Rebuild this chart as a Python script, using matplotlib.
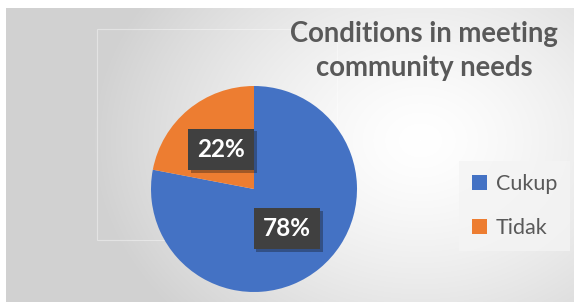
"""Pie chart: conditions in meeting community needs."""

import numpy as np
import matplotlib.pyplot as plt
import matplotlib.patheffects as pe

labels = ["Cukup", "Tidak"]
values = [78, 22]
colors = ["#4472C4", "#ED7D31"]
title = "Conditions in meeting\ncommunity needs"

plt.rcParams["font.family"] = ["Lato", "DejaVu Sans"]

fig = plt.figure(figsize=(5.74, 3.02), dpi=100)

# radial grey-to-white background, white strip at top/left
bg = fig.add_axes([0, 0, 1, 1])
W, H = 574, 302
yy, xx = np.mgrid[0:H, 0:W]
d = np.sqrt(((xx - 420) / 330.0) ** 2 + ((yy - 140) / 260.0) ** 2)
shade = 1.0 - 0.18 * np.clip(d, 0, 1) ** 1.4
img = np.dstack([shade] * 3)
img[:8, :, :] = 1.0
img[:, :6, :] = 1.0
bg.imshow(img, extent=(0, W, H, 0), aspect="auto", interpolation="bilinear")
bg.set_xlim(0, W); bg.set_ylim(H, 0)
bg.axis("off")

# faint plot-area outline
bg.add_patch(plt.Rectangle((97, 29), 240, 211, fill=False, ec="white",
                           lw=0.8, alpha=0.4))

ax = fig.add_axes([151 / W, (H - 189 - 103) / H, 206 / W, 206 / H])
wedges, texts, autotexts = ax.pie(
    values, colors=colors, startangle=90, counterclock=False,
    autopct="%1.0f%%", pctdistance=0.5,
    wedgeprops=dict(linewidth=0),
    textprops=dict(color="white", fontsize=17.5, fontweight="bold"),
)
ax.set_xlim(-1, 1); ax.set_ylim(-1, 1)
ax.set_aspect("equal")
for t in autotexts:
    t.set_bbox(dict(boxstyle="square,pad=0.38", fc="#404040", ec="none"))
    t.get_bbox_patch().set_path_effects(
        [pe.SimplePatchShadow(offset=(2, -2), alpha=0.35), pe.Normal()])

fig.text(424 / W, 1 - 51 / H, title, ha="center", va="center",
         fontsize=19.8, fontweight="bold", color="#595959", linespacing=1.35)

leg = fig.legend(wedges, labels, loc="center left",
                 bbox_to_anchor=(459 / W, 1 - 206 / H), borderaxespad=0,
                 frameon=True, facecolor="#f4f4f4", edgecolor="none",
                 fancybox=False, fontsize=15.5, labelcolor="#595959",
                 handlelength=0.7, handleheight=0.7, handletextpad=0.4,
                 labelspacing=1.15, borderpad=0.6)

fig.savefig("out.png", dpi=100)
